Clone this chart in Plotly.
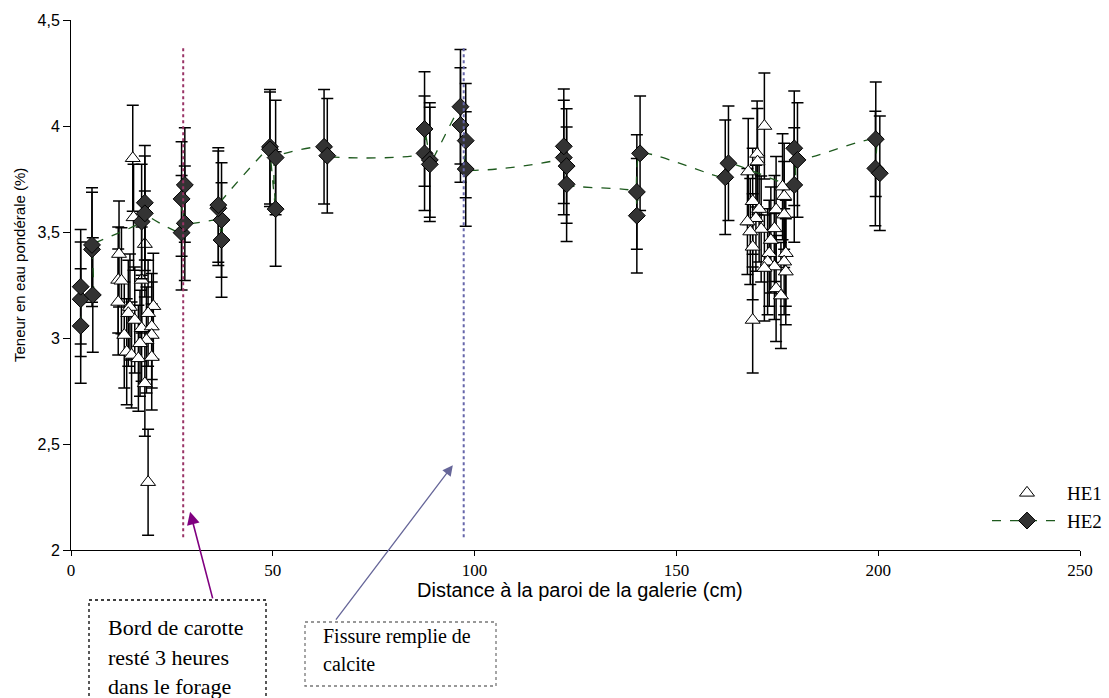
import plotly.graph_objects as go

# ---------------- data ----------------
he1_x = [15.3, 15.5, 18.3, 11.9, 11.7, 12.5, 17.5, 11.7, 14.6, 20.4, 14.2, 19.1, 15.8, 17.5,
         20.0, 13.2, 20.0, 18.7, 17.1, 13.8, 15.0, 16.7, 20.0, 18.3, 19.1,
         171.8, 170.0, 170.1, 167.8, 176.3, 176.7, 168.9, 170.5, 174.7, 176.7, 169.7, 167.6,
         174.3, 171.0, 168.3, 173.4, 168.9, 173.0, 177.1, 172.6, 176.7, 174.3, 177.1, 171.8,
         174.7, 175.9, 168.9]
he1_y = [3.848, 3.569, 3.443, 3.396, 3.274, 3.270, 3.274, 3.170, 3.146, 3.150, 3.117, 3.117, 3.085, 3.046,
         3.054, 3.014, 3.014, 2.990, 2.975, 2.935, 2.920, 2.904, 2.910, 2.786, 2.320,
         4.000, 3.868, 3.832, 3.785, 3.714, 3.669, 3.645, 3.608, 3.606, 3.582, 3.565, 3.549,
         3.517, 3.514, 3.502, 3.462, 3.430, 3.400, 3.400, 3.360, 3.360, 3.337, 3.313, 3.330,
         3.234, 3.200, 3.085]
he1_err = [0.25] * len(he1_x)

he2_x = [2.4, 2.4, 2.4, 5.4, 5.2, 5.2,
         17.5, 18.3, 18.3,
         27.4, 27.4, 28.2, 28.2,
         37.3, 37.3, 36.5, 36.5,
         49.3, 49.3, 50.7, 50.7,
         62.7, 63.5,
         87.6, 87.6, 88.9, 88.9,
         96.5, 96.5, 97.8, 97.8,
         122.1, 122.1, 122.8, 122.8,
         140.2, 140.2, 141.0,
         162.1, 162.9,
         179.2, 179.2, 180.0,
         199.4, 199.3, 200.4]
he2_y = [3.057, 3.183, 3.242, 3.203, 3.418, 3.439,
         3.549, 3.638, 3.588,
         3.497, 3.656, 3.722, 3.541,
         3.557, 3.462, 3.612, 3.627,
         3.902, 3.890, 3.608, 3.851,
         3.902, 3.860,
         3.871, 3.986, 3.840, 3.819,
         4.091, 4.005, 3.931, 3.797,
         3.851, 3.904, 3.811, 3.725,
         3.689, 3.577, 3.871,
         3.758, 3.824,
         3.722, 3.895, 3.840,
         3.938, 3.800, 3.777]
he2_err = [0.27] * len(he2_x)

y_ticks = [2, 2.5, 3, 3.5, 4, 4.5]
y_tick_text = ["2", "2,5", "3", "3,5", "4", "4,5"]
x_ticks = [0, 50, 100, 150, 200, 250]

marker_line_1 = 27.8   # bord de carotte
marker_line_2 = 97.3   # fissure

SERIF = "Liberation Serif"
SANS = "Liberation Sans"

fig = go.Figure()

fig.add_trace(go.Scatter(
    x=he1_x, y=he1_y, mode="markers", name="HE1",
    marker=dict(symbol="triangle-up", size=13, color="white",
                line=dict(color="black", width=1)),
    error_y=dict(type="data", array=he1_err, visible=True, color="black",
                 thickness=1.5, width=6),
))
fig.add_trace(go.Scatter(
    x=he2_x, y=he2_y, mode="lines+markers", name="HE2",
    line=dict(color="#1e5a1e", width=1.3, dash="dash", shape="spline", smoothing=0.5),
    marker=dict(symbol="diamond", size=13, color="#333333",
                line=dict(color="black", width=1)),
    error_y=dict(type="data", array=he2_err, visible=True, color="black",
                 thickness=1.5, width=6),
))


def px_x(p):
    return (p - 71) / 1009


def px_y(p):
    return (550 - p) / 530


shapes = [
    dict(type="line", xref="x", yref="y", x0=marker_line_1, x1=marker_line_1, y0=2.06, y1=4.37,
         line=dict(color="#993366", width=2, dash="dot")),
    dict(type="line", xref="x", yref="y", x0=marker_line_2, x1=marker_line_2, y0=2.06, y1=4.37,
         line=dict(color="#6666aa", width=2, dash="dot")),
    # annotation boxes (paper coords)
    dict(type="rect", xref="paper", yref="paper",
         x0=px_x(89), x1=px_x(266), y0=px_y(600), y1=px_y(720),
         line=dict(color="black", width=1.3, dash="dot")),
    dict(type="rect", xref="paper", yref="paper",
         x0=px_x(305), x1=px_x(496), y0=px_y(622), y1=px_y(686),
         line=dict(color="#777777", width=1.3, dash="dot")),
]

annotations = [
    dict(text="Distance à la paroi de la galerie (cm)", xref="paper", yref="paper",
         x=px_x(580), y=px_y(590), xanchor="center", yanchor="middle", showarrow=False,
         font=dict(family=SANS, size=20, color="black")),
    dict(text="Teneur en eau pondérale (%)", xref="paper", yref="paper", textangle=-90,
         x=px_x(19), y=px_y(265), xanchor="center", yanchor="middle", showarrow=False,
         font=dict(family=SANS, size=15, color="black")),
    # arrows
    dict(x=29.5, y=2.18, xref="x", yref="y", ax=23, ay=88, text="", showarrow=True,
         arrowhead=2, arrowsize=1.6, arrowwidth=1.6, arrowcolor="#800080"),
    dict(x=94.6, y=2.40, xref="x", yref="y", ax=-118, ay=156, text="", showarrow=True,
         arrowhead=2, arrowsize=1.6, arrowwidth=1.3, arrowcolor="#666699"),
]
for t, yy in zip(["Bord de carotte", "resté 3 heures", "dans le forage"], [627, 657, 686]):
    annotations.append(dict(text=t, xref="paper", yref="paper", x=px_x(106), y=px_y(yy),
                            xanchor="left", yanchor="middle", showarrow=False,
                            font=dict(family=SERIF, size=22, color="black")))
for t, yy in zip(["Fissure remplie de", "calcite"], [636, 664]):
    annotations.append(dict(text=t, xref="paper", yref="paper", x=px_x(321), y=px_y(yy),
                            xanchor="left", yanchor="middle", showarrow=False,
                            font=dict(family=SERIF, size=20, color="black")))

fig.update_layout(
    width=1109, height=698,
    margin=dict(l=71, r=29, t=20, b=148, autoexpand=False),
    paper_bgcolor="white", plot_bgcolor="white",
    showlegend=True,
    legend=dict(x=px_x(987), y=px_y(474), xanchor="left", yanchor="top",
                bgcolor="rgba(0,0,0,0)", itemwidth=70,
                font=dict(family=SERIF, size=19, color="black")),
    shapes=shapes, annotations=annotations,
    xaxis=dict(range=[0, 250], tickvals=x_ticks, showline=True, linecolor="black", linewidth=1,
               ticks="outside", ticklen=5, tickcolor="black", showgrid=False, zeroline=False,
               tickfont=dict(family=SERIF, size=17, color="black")),
    yaxis=dict(range=[2, 4.5], tickvals=y_ticks, ticktext=y_tick_text, showline=True,
               linecolor="black", linewidth=1, ticks="outside", ticklen=7, tickcolor="black",
               showgrid=False, zeroline=False,
               tickfont=dict(family=SANS, size=16, color="black")),
)

fig.write_html("out.html")
